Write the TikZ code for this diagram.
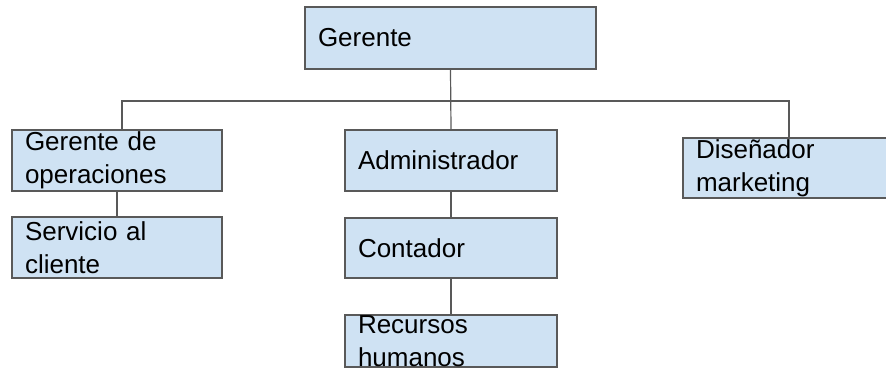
\documentclass[tikz,border=0pt]{standalone}
\usepackage{fontspec}
\setmainfont{Liberation Sans}
\usetikzlibrary{positioning}
\definecolor{boxblue}{HTML}{CFE2F3}
\definecolor{boxline}{HTML}{595959}

\begin{document}
\begin{tikzpicture}[x=1pt,y=-1pt,
    puesto/.style={draw=boxline, line width=1.4pt, fill=boxblue, align=left,
      inner xsep=13pt, inner ysep=0pt, font=\fontsize{26}{33}\selectfont},
    linea/.style={draw=boxline, line width=1.2pt}]
        \useasboundingbox (0,0) rectangle (886,377);
        \clip (0,0) rectangle (886,377);
        % Top of the chart
        \node[puesto, minimum width=291pt, minimum height=62pt, text width=265pt] (gerente) at (450.5,38) {Gerente};
        % Left branch
        \node[puesto, minimum width=210pt, minimum height=61pt, text width=184pt] (operaciones) at (117,160.5) {Gerente de\\operaciones};
        \node[puesto, minimum width=210pt, minimum height=61pt, text width=184pt] (servicio) at (117,247.5) {Servicio al\\cliente};
        % Middle branch
        \node[puesto, minimum width=212pt, minimum height=61pt, text width=186pt] (admin) at (451,160.5) {Administrador};
        \node[puesto, minimum width=212pt, minimum height=60pt, text width=186pt] (contador) at (451,248) {Contador};
        \node[puesto, minimum width=212pt, minimum height=52pt, text width=186pt] (recursos) at (451,341) {Recursos\\humanos};
        % Right branch
        \node[puesto, minimum width=212pt, minimum height=60pt, text width=186pt] (disenador) at (789,168) {Diseñador\\marketing};
        % Bus line
        \coordinate (busizq) at (122,101);
        \coordinate (busder) at (789,101);
        \draw[linea] (operaciones.north -| busizq) -- (busizq) -- (busder) -- (disenador.north);
        \draw[linea] (gerente.south) -- (admin.north);
        \draw[linea] (operaciones) -- (servicio);
        \draw[linea] (admin) -- (contador);
        \draw[linea] (contador) -- (recursos);
\end{tikzpicture}
\end{document}
